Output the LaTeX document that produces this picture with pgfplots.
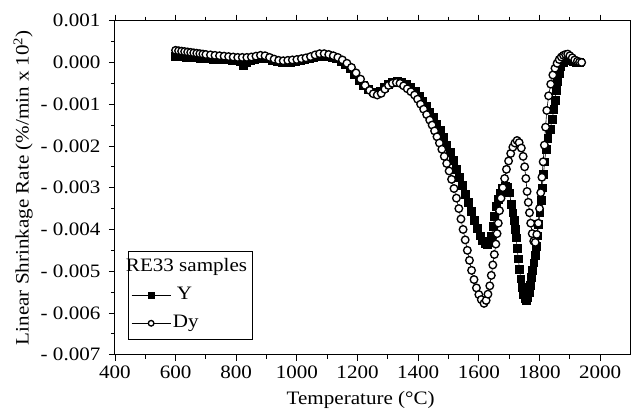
\documentclass[border=0pt]{standalone}
\usepackage{fontspec}
\setmainfont{Liberation Serif}[FakeStretch=1.11]
\usepackage{pgfplots}
\pgfplotsset{compat=1.18}
\usepackage{pgfplotstable}
\newcommand\fsz{\fontsize{19}{22}\selectfont}

\pgfplotstableread{
T v
600 0.15
610 0.14
620 0.14
635 0.13
650 0.12
665 0.11
680 0.10
695 0.10
710 0.09
725 0.08
740 0.08
755 0.07
770 0.07
785 0.06
800 0.05
812 0.02
822 -0.08
832 0.01
845 0.05
860 0.07
875 0.09
890 0.10
905 0.09
920 0.06
935 0.03
950 0.01
965 0.00
980 0.01
995 0.02
1010 0.04
1025 0.07
1040 0.09
1055 0.12
1070 0.15
1085 0.16
1100 0.15
1115 0.13
1130 0.09
1145 0.03
1160 -0.05
1175 -0.15
1190 -0.28
1205 -0.42
1220 -0.55
1235 -0.64
1250 -0.70
1262 -0.72
1275 -0.68
1288 -0.60
1300 -0.52
1315 -0.47
1330 -0.45
1345 -0.47
1360 -0.53
1375 -0.60
1390 -0.69
1403 -0.80
1415 -0.92
1427 -1.05
1438 -1.18
1450 -1.32
1461 -1.48
1472 -1.63
1483 -1.80
1494 -1.98
1505 -2.16
1515 -2.35
1525 -2.55
1535 -2.75
1545 -2.95
1555 -3.15
1565 -3.35
1575 -3.56
1585 -3.78
1595 -3.98
1604 -4.15
1612 -4.27
1620 -4.34
1628 -4.36
1636 -4.30
1642 -4.15
1647 -3.92
1652 -3.68
1658 -3.45
1664 -3.27
1671 -3.12
1678 -3.02
1686 -2.97
1694 -2.98
1701 -3.12
1707 -3.40
1712 -3.60
1716 -3.78
1720 -4.00
1723 -4.20
1726 -4.45
1730 -4.70
1734 -4.95
1738 -5.18
1742 -5.38
1747 -5.55
1752 -5.66
1756 -5.69
1761 -5.62
1765 -5.50
1769 -5.33
1773 -5.15
1777 -4.98
1781 -4.80
1785 -4.62
1789 -4.40
1793 -4.15
1797 -3.88
1801 -3.60
1805 -3.30
1809 -3.00
1813 -2.68
1817 -2.38
1821 -2.08
1827 -1.82
1835 -1.60
1842 -1.36
1847 -1.12
1851 -0.90
1855 -0.67
1858 -0.45
1864 -0.25
1870 -0.10
1877 0.00
1885 0.06
1893 0.08
1900 0.05
1910 0.02
1920 0.00
1930 0.00
}\Ydata

\pgfplotstableread{
T v
600 0.29
610 0.28
620 0.27
630 0.26
640 0.25
650 0.24
660 0.23
670 0.22
680 0.21
690 0.20
700 0.19
715 0.18
730 0.17
745 0.16
760 0.15
775 0.14
790 0.13
805 0.12
820 0.12
835 0.12
850 0.13
865 0.15
880 0.17
895 0.16
910 0.12
925 0.08
940 0.05
955 0.04
970 0.05
985 0.06
1000 0.07
1015 0.09
1030 0.11
1045 0.14
1060 0.18
1075 0.21
1090 0.21
1105 0.19
1120 0.16
1135 0.12
1150 0.06
1165 -0.02
1180 -0.12
1195 -0.25
1210 -0.40
1225 -0.55
1240 -0.67
1252 -0.75
1265 -0.78
1278 -0.74
1290 -0.64
1302 -0.55
1315 -0.50
1328 -0.48
1340 -0.50
1352 -0.56
1364 -0.63
1376 -0.70
1388 -0.78
1398 -0.88
1408 -1.00
1418 -1.12
1428 -1.25
1438 -1.38
1446 -1.50
1454 -1.64
1462 -1.78
1470 -1.93
1478 -2.08
1486 -2.25
1494 -2.42
1502 -2.60
1510 -2.80
1518 -3.02
1526 -3.25
1534 -3.50
1541 -3.75
1548 -4.00
1555 -4.25
1562 -4.50
1569 -4.74
1576 -4.98
1584 -5.20
1592 -5.40
1600 -5.56
1608 -5.68
1617 -5.77
1624 -5.70
1630 -5.55
1636 -5.35
1641 -5.10
1646 -4.85
1651 -4.60
1656 -4.35
1660 -4.10
1664 -3.85
1668 -3.55
1673 -3.25
1679 -3.00
1685 -2.78
1691 -2.56
1698 -2.36
1705 -2.18
1712 -2.03
1719 -1.93
1726 -1.87
1733 -1.92
1740 -2.05
1746 -2.25
1751 -2.50
1755 -2.78
1759 -3.09
1763 -3.35
1767 -3.60
1771 -3.85
1776 -4.10
1781 -4.28
1786 -4.31
1791 -4.12
1796 -3.85
1800 -3.50
1804 -3.12
1808 -2.75
1812 -2.38
1816 -1.98
1820 -1.55
1824 -1.15
1830 -0.80
1837 -0.52
1844 -0.30
1851 -0.14
1858 -0.02
1865 0.07
1872 0.13
1879 0.17
1886 0.19
1893 0.20
1900 0.16
1908 0.11
1916 0.06
1925 0.03
1932 0.01
1939 0.00
}\Dydata

\begin{document}
\begin{tikzpicture}
\begin{axis}[
  scale only axis,
  width=516pt, height=334.3pt,
  xmin=400, xmax=2100,
  ymin=-7, ymax=1,
  xtick={400,600,...,2000},
  xticklabels={\textrm{400},\textrm{600},\textrm{800},\textrm{1000},\textrm{1200},\textrm{1400},\textrm{1600},\textrm{1800},\textrm{2000}},
  minor x tick num=1,
  ytick={-7,-6,...,1},
  yticklabels={\textrm{- 0.007},\textrm{- 0.006},\textrm{- 0.005},\textrm{- 0.004},\textrm{- 0.003},\textrm{- 0.002},\textrm{- 0.001},\textrm{0.000},\textrm{0.001}},
  yticklabel style={xshift=-5pt},
  xticklabel style={yshift=-2pt},
  minor y tick num=1,
  tick align=outside,
  tick pos=both,
  major tick length=6pt,
  minor tick length=4pt,
  every tick/.style={black, line width=0.8pt},
  axis line style={line width=0.9pt},
  tick label style={font=\fsz},
  label style={font=\fsz},
  xlabel={Temperature (°C)},
  ylabel={Linear Shrinkage Rate (\%/min x 10\textsuperscript{2})},
  every axis x label/.append style={at={(axis description cs:0.4767,-0.1346)}, anchor=center},
  every axis y label/.append style={at={(axis description cs:-0.178,0.5)}, anchor=center},
  legend cell align=left,
  legend style={at={(axis description cs:0.0252,0.0449)}, anchor=south west,
    draw=black, line width=0.9pt, font=\fsz, inner xsep=3pt, inner ysep=2pt,
    row sep=0pt,
    nodes={text height=13pt, text depth=4pt, inner ysep=5.5pt}},
  legend image code/.code={\draw[mark repeat=2,mark phase=2,#1] plot coordinates {(0pt,0pt) (19.5pt,0pt) (39pt,0pt)};},
]
\coordinate (ll) at (rel axis cs:0,0);
\coordinate (ur) at (rel axis cs:1,1);
\addlegendimage{empty legend}
\addlegendentry{\hspace*{-47pt}RE33 samples}
\addplot[black, line width=0.6pt, mark=square*, mark size=3.9pt,
  mark options={fill=black, line width=0.5pt},
  legend image post style={mark size=3pt}] table[x=T,y=v] {\Ydata};
\addlegendentry{\hspace*{4pt}Y}
\addplot[black, line width=0.6pt, mark=*, mark size=3.8pt,
  mark options={fill=white, line width=1.35pt},
  legend image post style={mark size=2.8pt}] table[x=T,y=v] {\Dydata};
\addlegendentry{Dy}
\end{axis}
\pgfresetboundingbox
\path ([shift={(-115pt,-57pt)}]ll) rectangle ([shift={(0.5pt,20.7pt)}]ur);
\end{tikzpicture}
\end{document}
